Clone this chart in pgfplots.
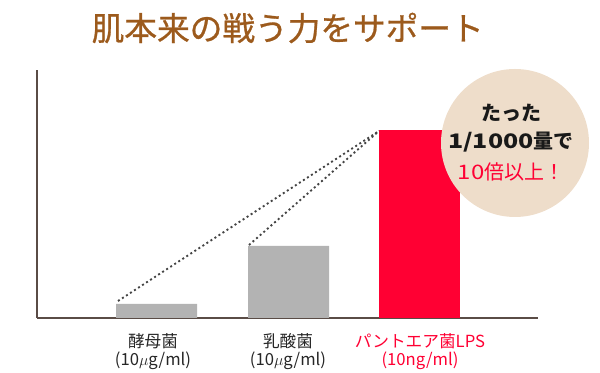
\documentclass[border=0pt]{standalone}
\usepackage{pgfplots}
\pgfplotsset{compat=1.18}
\usepackage{fontspec}
\setmainfont{Noto Sans CJK JP}
\newfontfamily\titlefont[FakeBold=0.8]{Noto Sans CJK JP}
\definecolor{titlebrown}{HTML}{9C5A1C}
\definecolor{bargray}{HTML}{B3B3B3}
\definecolor{barred}{HTML}{FF0033}
\definecolor{beige}{HTML}{EEDDCA}
\definecolor{axiscol}{HTML}{5A4C46}
\definecolor{dotcol}{HTML}{444444}
\begin{document}
\begin{tikzpicture}[x=0.75pt,y=0.75pt]
\useasboundingbox (0,0) rectangle (600,373);
\begin{axis}[
  at={(37,55)}, anchor=south west,
  scale only axis, width=375.75pt, height=186pt,
  xmin=37, xmax=538, ymin=0, ymax=248,
  axis x line=bottom, axis y line=left,
  axis line style={-, axiscol, line width=0.9pt},
  ytick=\empty,
  xtick={153,288,420},
  xticklabels={{酵母菌\\(10$\mu$g/ml)},{乳酸菌\\(10$\mu$g/ml)},{\color{barred}パントエア菌LPS\\\color{barred}(10ng/ml)}},
  xticklabel style={align=center, font=\fontsize{12.5pt}{13.5pt}\selectfont, text=black!85, yshift=-8pt},
  major tick length=0pt,
  clip=false,
]
\addplot[ybar, bar width=81, bar shift=0pt, fill=bargray, draw=none] coordinates {(156.5,14) (288.5,72)};
\addplot[ybar, bar width=81, bar shift=0pt, fill=barred, draw=none] coordinates {(419.5,188)};
\addplot[dotcol, line width=1.4pt, dash pattern=on 1.5pt off 2.1pt] coordinates {(118,17) (379,187)};
\addplot[dotcol, line width=1.4pt, dash pattern=on 1.5pt off 2.1pt] coordinates {(249,73) (379,187)};
\end{axis}
\fill[beige] (515,230) circle[radius=55.5pt];
\node[font=\fontsize{15pt}{16pt}\selectfont\bfseries, text=black!90] at (511,260) {たった};
\node[font=\fontsize{15pt}{16pt}\selectfont\bfseries, text=black!90] at (511,231) {\scalebox{1.25}[1]{1/1000}量で};
\node[font=\fontsize{15pt}{16pt}\selectfont, text=barred] at (511,201) {\scalebox{1.2}[1]{10}倍以上！};
\node[font=\titlefont\fontsize{24.5pt}{26pt}\selectfont, text=titlebrown, anchor=west] at (87,345) {肌本来の戦う力をサポート};
\end{tikzpicture}
\end{document}
